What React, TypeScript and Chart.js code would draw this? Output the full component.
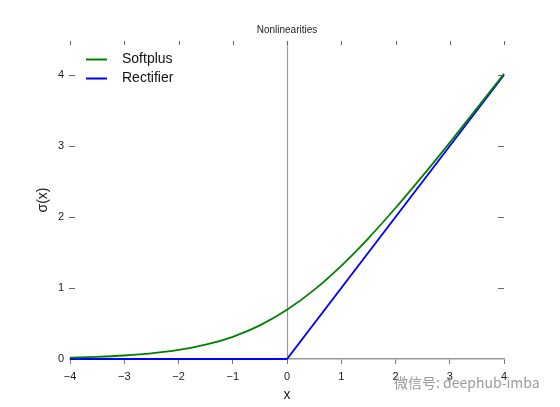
import React, { useEffect, useRef } from "react";
import { Chart, registerables } from "chart.js";

Chart.register(...registerables);

const TITLE = "Nonlinearities";
const X_LABEL = "x";
const Y_LABEL = "σ(x)";
const WATERMARK = "微信号: deephub-imba";

const X_TICKS = [-4, -3, -2, -1, 0, 1, 2, 3, 4];
const Y_TICKS = [0, 1, 2, 3, 4];

const SERIES_NAMES = ["Softplus", "Rectifier"];

const SOFTPLUS_X = [-4, -3.5, -3, -2.5, -2, -1.5, -1, -0.5, 0, 0.5, 1, 1.5, 2, 2.5, 3, 3.5, 4];
const SOFTPLUS_Y = [0.018, 0.03, 0.049, 0.079, 0.127, 0.201, 0.313, 0.474, 0.693, 0.974, 1.313, 1.701, 2.127, 2.579, 3.049, 3.53, 4.018];

const RECTIFIER_X = [-4, 0, 4];
const RECTIFIER_Y = [0, 0, 4];

const COLORS = ["#008000", "#0000ff"];
const FONT = "'Liberation Sans', Arial, sans-serif";

const toPoints = (xs: number[], ys: number[]) => xs.map((x, i) => ({ x, y: ys[i] }));
const fmt = (v: number) => (v < 0 ? "\u2212" + Math.abs(v) : String(v));

const decor = {
  id: "decor",
  beforeDatasetsDraw(chart: any) {
    const { ctx, chartArea: a, scales } = chart;
    const xs = scales.x;
    const ys = scales.y;
    ctx.save();
    const x0 = Math.round(xs.getPixelForValue(0)) + 0.5;
    ctx.strokeStyle = "#9a9a9a";
    ctx.lineWidth = 1.2;
    ctx.beginPath();
    ctx.moveTo(x0, a.top);
    ctx.lineTo(x0, a.bottom);
    ctx.stroke();
    ctx.strokeStyle = "#666";
    ctx.lineWidth = 1;
    ctx.beginPath();
    for (const v of X_TICKS) {
      const px = Math.round(xs.getPixelForValue(v)) + 0.5;
      ctx.moveTo(px, a.top);
      ctx.lineTo(px, a.top + 4);
    }
    for (const v of Y_TICKS) {
      if (v === 0) continue;
      const py = Math.round(ys.getPixelForValue(v)) + 0.5;
      ctx.moveTo(a.left - 1, py);
      ctx.lineTo(a.left + 5, py);
      ctx.moveTo(a.right - 6, py);
      ctx.lineTo(a.right, py);
    }
    ctx.stroke();
    ctx.restore();
  },
  afterDraw(chart: any) {
    const { ctx, chartArea: a } = chart;
    ctx.save();
    ctx.fillStyle = "#222";
    ctx.textAlign = "center";
    ctx.textBaseline = "middle";
    ctx.font = `10px ${FONT}`;
    ctx.fillText(TITLE, (a.left + a.right) / 2, 30);
    ctx.font = `14px ${FONT}`;
    ctx.fillText(X_LABEL, (a.left + a.right) / 2, 395);
    ctx.save();
    ctx.translate(43, (a.top + a.bottom) / 2);
    ctx.rotate(-Math.PI / 2);
    ctx.fillText(Y_LABEL, 0, 0);
    ctx.restore();
    chart.data.datasets.forEach((ds: any, i: number) => {
      const y = a.top + 18 + 19 * i + 0.5;
      ctx.strokeStyle = ds.borderColor;
      ctx.lineWidth = 2;
      ctx.beginPath();
      ctx.moveTo(a.left + 16, y);
      ctx.lineTo(a.left + 37, y);
      ctx.stroke();
      ctx.fillStyle = "#111";
      ctx.textAlign = "left";
      ctx.font = `14px ${FONT}`;
      ctx.fillText(ds.label, a.left + 52, y);
    });
    ctx.restore();
  },
};

export default function App() {
  const ref = useRef<HTMLCanvasElement | null>(null);
  useEffect(() => {
    if (!ref.current) return;
    const chart = new Chart(ref.current, {
      type: "line",
      data: {
        datasets: [
          {
            label: SERIES_NAMES[0],
            data: toPoints(SOFTPLUS_X, SOFTPLUS_Y),
            borderColor: COLORS[0],
            borderWidth: 1.8,
            pointRadius: 0,
            cubicInterpolationMode: "monotone",
            clip: 6,
          },
          {
            label: SERIES_NAMES[1],
            data: toPoints(RECTIFIER_X, RECTIFIER_Y),
            borderColor: COLORS[1],
            borderWidth: 1.8,
            pointRadius: 0,
            clip: 6,
          },
        ],
      },
      options: {
        responsive: false,
        animation: false,
        layout: { padding: { top: 41, right: 56, left: 0, bottom: 0 } },
        plugins: {
          legend: { display: false },
          title: { display: false },
          tooltip: { enabled: false },
        },
        scales: {
          x: {
            type: "linear",
            min: -4,
            max: 4,
            afterFit: (s: any) => {
              s.height = 48;
            },
            afterBuildTicks: (s: any) => {
              s.ticks = X_TICKS.map((v) => ({ value: v }));
            },
            ticks: {
              font: { size: 11, family: FONT },
              color: "#222",
              padding: 6,
              maxRotation: 0,
              callback: (v: any) => fmt(Number(v)),
            },
            grid: {
              drawOnChartArea: false,
              drawTicks: true,
              tickLength: 5,
              color: "#777",
              lineWidth: 1,
            },
            border: { display: true, color: "#9a9a9a", width: 1.5 },
          },
          y: {
            type: "linear",
            min: 0,
            max: 4.48,
            afterFit: (s: any) => {
              s.width = 70;
            },
            afterBuildTicks: (s: any) => {
              s.ticks = Y_TICKS.map((v) => ({ value: v }));
            },
            ticks: {
              font: { size: 11, family: FONT },
              color: "#222",
              padding: 6,
              callback: (v: any) => fmt(Number(v)),
            },
            grid: { display: false, drawTicks: false },
            border: { display: false },
          },
        },
      },
      plugins: [decor],
    });
    return () => chart.destroy();
  }, []);
  return (
    <div style={{ position: "fixed", left: 0, top: 0, width: 560, height: 407, background: "#fff" }}>
      <canvas ref={ref} width={560} height={407} style={{ width: 560, height: 407, display: "block" }} />
      <span
        style={{
          position: "absolute",
          left: 394,
          top: 373,
          fontFamily: "'Noto Sans CJK SC', 'Liberation Sans', sans-serif",
          fontSize: 14,
          lineHeight: "18px",
          color: "#9a9a9a",
          whiteSpace: "nowrap",
        }}
      >
        {WATERMARK}
      </span>
    </div>
  );
}
